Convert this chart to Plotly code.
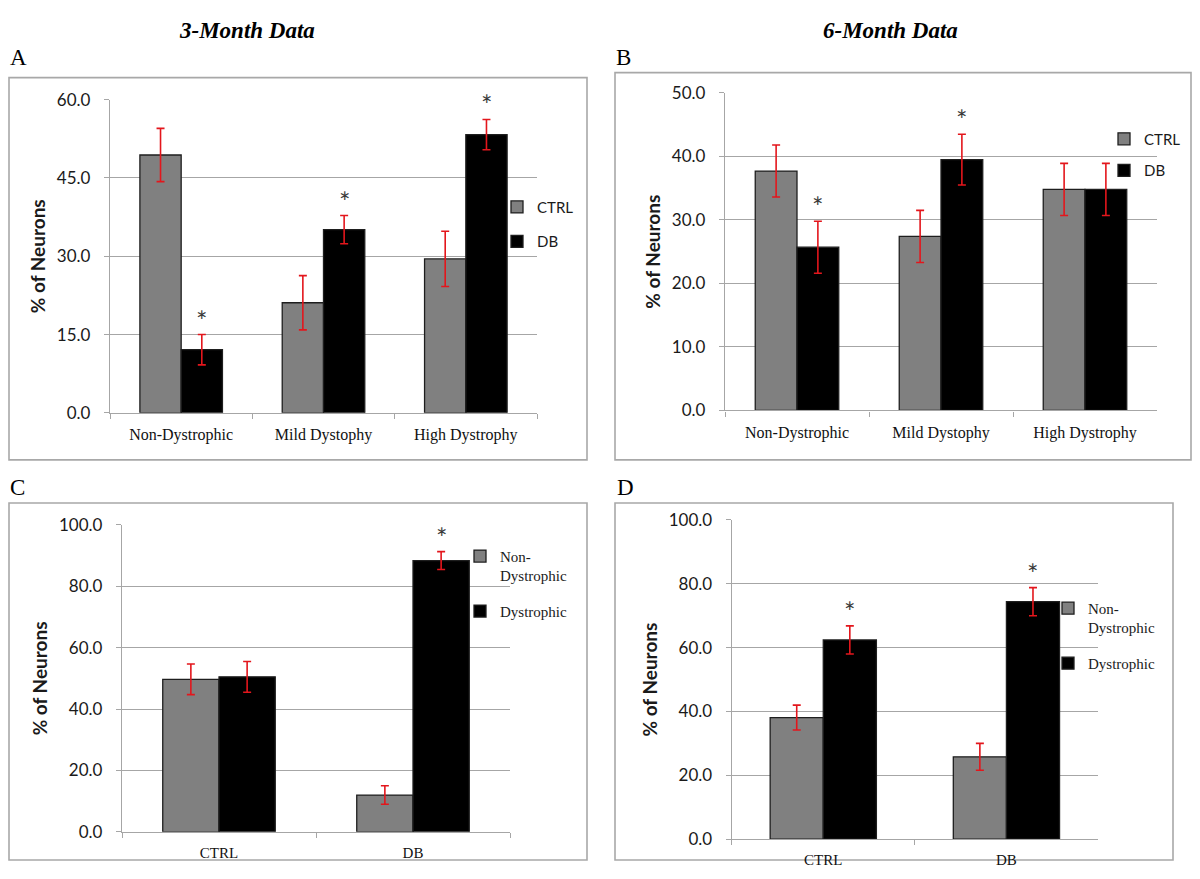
import plotly.graph_objects as go

# ---------------- data ----------------
cats_ab = ["Non-Dystrophic", "Mild Dystophy", "High Dystrophy"]
a_ctrl = [49.4, 21.1, 29.5]
a_ctrl_err = [5.1, 5.2, 5.3]
a_db = [12.1, 35.1, 53.3]
a_db_err = [2.9, 2.7, 2.9]
a_db_sig = [True, True, True]

b_ctrl = [37.7, 27.4, 34.8]
b_ctrl_err = [4.1, 4.1, 4.1]
b_db = [25.7, 39.5, 34.8]
b_db_err = [4.1, 4.0, 4.1]
b_db_sig = [True, True, False]

cats_cd = ["CTRL", "DB"]
c_nondys = [49.7, 12.0]
c_nondys_err = [5.0, 3.0]
c_dys = [50.5, 88.4]
c_dys_err = [5.0, 2.9]
c_dys_sig = [False, True]

d_nondys = [38.1, 25.8]
d_nondys_err = [3.9, 4.2]
d_dys = [62.4, 74.4]
d_dys_err = [4.4, 4.4]
d_dys_sig = [True, True]

col_titles = ["3-Month Data", "6-Month Data"]
panel_letters = ["A", "B", "C", "D"]
y_title = "% of Neurons"

# ---------------- style ----------------
PAGE_W, PAGE_H = 1200, 879
OFF = 8                      # default page (body) margin of the html page
W, H = PAGE_W - 2 * OFF, PAGE_H - 2 * OFF
Y_SCALE, Y_SHIFT = 0.975, 11.6   # observed photo mapping of page y
GRAY_BAR = "#808080"
BLACK_BAR = "#000000"
OUTLINE = "#1e1e1e"
ERR = "#e3161c"
GRID = "#a6a6a6"
FRAME = "#a8a8a8"
SANS = "Lato, Open Sans, sans-serif"
SERIF = "Liberation Serif, Times New Roman, serif"
BARGAP = 0.42


def page_y(t):
    return (t - Y_SHIFT) / Y_SCALE


def clamp_y(v):
    return min(max(v, OFF + 1), OFF + H - 1)


def clamp_x(v):
    return min(max(v, OFF + 1), OFF + W - 1)


def px_x(v):
    return (v - OFF) / W


def px_y(t, clamp=False):
    v = page_y(t)
    if clamp:
        v = clamp_y(v)
    return 1 - (v - OFF) / H


fig = go.Figure()

panels = [
    dict(ax="", cats=cats_ab, names=["CTRL", "DB"],
         vals=[a_ctrl, a_db], errs=[a_ctrl_err, a_db_err], sig=a_db_sig,
         rng=[0, 60], dtick=15, dom_x=[110, 537], dom_y=[100, 413],
         legend="legend", leg_text=(537, 207), leg_gap=12, leg_font=SANS, leg_size=15,
         tickfont=dict(family=SERIF, size=16, color="#111")),
    dict(ax="2", cats=cats_ab, names=["CTRL", "DB"],
         vals=[b_ctrl, b_db], errs=[b_ctrl_err, b_db_err], sig=b_db_sig,
         rng=[0, 50], dtick=10, dom_x=[725, 1157], dom_y=[93.3, 410.5],
         legend="legend2", leg_text=(1144, 139), leg_gap=9, leg_font=SANS, leg_size=15,
         tickfont=dict(family=SERIF, size=16, color="#111")),
    dict(ax="3", cats=cats_cd, names=["Non-<br>Dystrophic", "Dystrophic"],
         vals=[c_nondys, c_dys], errs=[c_nondys_err, c_dys_err], sig=c_dys_sig,
         rng=[0, 100], dtick=20, dom_x=[122, 510], dom_y=[525, 831.7],
         legend="legend3", leg_text=(500, 556), leg_gap=13, leg_font=SERIF, leg_size=15,
         tickfont=dict(family=SERIF, size=15, color="#111")),
    dict(ax="4", cats=cats_cd, names=["Non-<br>Dystrophic", "Dystrophic"],
         vals=[d_nondys, d_dys], errs=[d_nondys_err, d_dys_err], sig=d_dys_sig,
         rng=[0, 100], dtick=20, dom_x=[731.7, 1098], dom_y=[520, 839],
         legend="legend4", leg_text=(1088, 608), leg_gap=13, leg_font=SERIF, leg_size=15,
         tickfont=dict(family=SERIF, size=15, color="#111")),
]

colors = [GRAY_BAR, BLACK_BAR]
annotations = []
layout_axes = {}

for p in panels:
    xa = "x" + p["ax"]
    ya = "y" + p["ax"]
    for k in range(2):
        fig.add_trace(go.Bar(
            x=p["cats"], y=p["vals"][k], name=p["names"][k],
            xaxis=xa, yaxis=ya, legend=p["legend"], legendgroup=p["legend"] + str(k),
            marker=dict(color=colors[k], line=dict(color=OUTLINE, width=1.3)),
            error_y=dict(type="data", array=p["errs"][k], visible=True,
                         color=ERR, thickness=1.6, width=4),
        ))
    # significance stars above the second series
    offset = (1 - BARGAP) / 4
    for i, s in enumerate(p["sig"]):
        if s:
            annotations.append(dict(
                x=i + offset, y=p["vals"][1][i] + p["errs"][1][i],
                xref=xa, yref=ya, text="*", showarrow=False,
                yanchor="bottom", yshift=-4,
                font=dict(family=SANS, size=27, color="#3a3a3a")))
    xkey = "xaxis" + p["ax"]
    ykey = "yaxis" + p["ax"]
    layout_axes[xkey] = dict(
        domain=[px_x(p["dom_x"][0]), px_x(p["dom_x"][1])],
        anchor=ya, type="category", showline=True, linecolor=GRID, linewidth=1.3,
        ticks="outside", tickson="boundaries", ticklen=5, tickcolor=GRID,
        tickwidth=1.3, showgrid=False, tickfont=p["tickfont"], fixedrange=True,
        ticklabelstandoff=7,
    )
    layout_axes[ykey] = dict(
        domain=[px_y(p["dom_y"][1]), px_y(p["dom_y"][0])],
        anchor=xa, range=p["rng"], dtick=p["dtick"], tick0=0, tickformat=".1f",
        showline=True, linecolor=GRID, linewidth=1.3, ticks="outside", ticklen=5,
        tickcolor=GRID, tickwidth=1.3, showgrid=True, gridcolor=GRID, gridwidth=1.3,
        zeroline=False, ticklabelstandoff=10,
        tickfont=dict(family=SANS, size=17, color="#1a1a1a"),
        title=dict(text="<b>" + y_title + "</b>", standoff=6,
                   font=dict(family=SANS, size=19, color="#1a1a1a")),
        fixedrange=True,
    )
    tx, ty = p["leg_text"]
    leg_top = page_y(ty) - 16.5
    layout_axes[p["legend"]] = dict(
        x=px_x(tx - 40), y=1 - (leg_top - OFF) / H, xanchor="left", yanchor="top",
        bgcolor="rgba(0,0,0,0)", borderwidth=0, itemwidth=30,
        tracegroupgap=p["leg_gap"], valign="top",
        font=dict(family=p["leg_font"], size=p["leg_size"], color="#1a1a1a"),
        itemclick=False, itemdoubleclick=False,
    )

# column titles (as high as the page allows)
for t, cx in zip(col_titles, [247, 890]):
    annotations.append(dict(
        x=px_x(cx), y=1 + 3 / H, xref="paper", yref="paper", text="<b><i>" + t + "</i></b>",
        showarrow=False, xanchor="center", yanchor="top",
        font=dict(family=SERIF, size=23, color="#000")))

# panel letters
for letter, (lx, ly) in zip(panel_letters, [(8, 58), (614, 58), (8, 488), (615, 488)]):
    annotations.append(dict(
        x=px_x(lx), y=px_y(ly), xref="paper", yref="paper", text=letter,
        showarrow=False, xanchor="left", yanchor="middle",
        font=dict(family=SERIF, size=23, color="#000")))

# panel frames
frames = [(4, 78, 587, 460), (615, 73, 1195, 460), (5, 503, 587, 875), (615, 503, 1173, 873)]
shapes = [dict(type="rect", xref="paper", yref="paper",
               x0=px_x(clamp_x(a)), x1=px_x(clamp_x(c)),
               y0=px_y(d, clamp=True), y1=px_y(b, clamp=True),
               line=dict(color=FRAME, width=1.6), layer="below")
          for a, b, c, d in frames]

fig.update_layout(
    width=W, height=H, autosize=False,
    margin=dict(l=0, r=0, t=0, b=0),
    paper_bgcolor="white", plot_bgcolor="white",
    barmode="group", bargap=BARGAP, bargroupgap=0,
    annotations=annotations, shapes=shapes,
    **layout_axes,
)

fig.write_html("out.html")
